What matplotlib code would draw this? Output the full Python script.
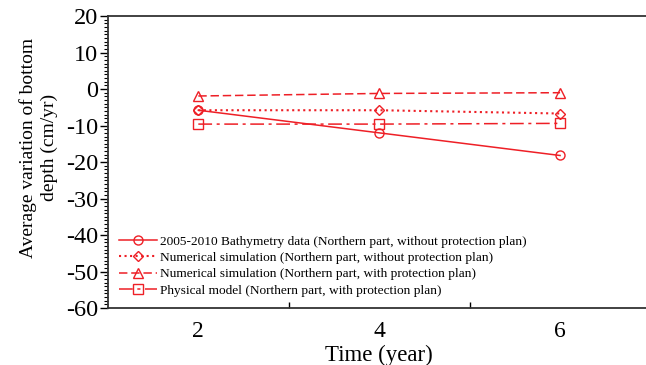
import matplotlib.pyplot as plt
from matplotlib.ticker import FixedLocator, MultipleLocator, NullFormatter

plt.rcParams['font.family'] = ['Liberation Serif', 'DejaVu Serif']
plt.rcParams['axes.unicode_minus'] = False

years = [2, 4, 6]
bathymetry_north = [-5.8, -12.0, -18.2]
sim_north_no_plan = [-5.8, -5.8, -6.7]
sim_north_plan = [-1.9, -1.2, -1.0]
physical_north_plan = [-9.6, -9.6, -9.4]

labels = [
    '2005-2010 Bathymetry data (Northern part, without protection plan)',
    'Numerical simulation (Northern part, without protection plan)',
    'Numerical simulation (Northern part, with protection plan)',
    'Physical model (Northern part, with protection plan)',
]

red = '#ee1f26'
fig = plt.figure(figsize=(6.46, 3.65), dpi=100)
ax = fig.add_axes([0.167, 0.156, 0.84, 0.80])

style = dict(color=red, lw=1.1, ms=6.5, mfc='none', mec=red, mew=1.0)
ax.plot(years, bathymetry_north, '-', marker='o', label=labels[0], **style)
ax.plot(years, sim_north_no_plan, ':', marker='D', label=labels[1],
        **{**style, 'ms': 5.5, 'lw': 1.5})
ax.plot(years, sim_north_plan, '--', marker='^', label=labels[2],
        dashes=(5.5, 2.5), **{**style, 'ms': 7})
ax.plot(years, physical_north_plan, '-.', marker='s', label=labels[3],
        dashes=(9, 3, 2, 3), **style)

ax.set_xlim(1, 7)
ax.set_ylim(-60, 20)

# labels sit at even years, tick marks at odd years
ax.xaxis.set_major_locator(FixedLocator([3, 5]))
ax.xaxis.set_major_formatter(NullFormatter())
ax.xaxis.set_minor_locator(FixedLocator(years))
ax.xaxis.set_minor_formatter(plt.FixedFormatter(['2', '4', '6']))
ax.tick_params(axis='x', which='major', direction='in', length=4, width=1)
ax.tick_params(axis='x', which='minor', length=0, pad=9, labelsize=17)

ax.yaxis.set_major_locator(MultipleLocator(10))
ax.yaxis.set_minor_locator(MultipleLocator(1))
ax.tick_params(axis='y', which='major', direction='out', length=6, width=1,
               labelsize=17.5, pad=1)
ax.tick_params(axis='y', which='minor', direction='out', length=3, width=0.8)

for side in ['left', 'bottom', 'top']:
    ax.spines[side].set_linewidth(1.3)
    ax.spines[side].set_color('#333333')
ax.spines['right'].set_visible(False)

ax.set_xlabel('Time (year)', fontsize=16.5, labelpad=2)
ax.set_ylabel('Average variation of bottom\ndepth (cm/yr)', fontsize=14,
              linespacing=1.25)
ax.yaxis.set_label_coords(-0.092, 0.55)

ax.legend(loc='lower left', bbox_to_anchor=(0.0, 0.0), frameon=False,
          fontsize=9.6, handlelength=2.8, handletextpad=0.25,
          labelspacing=0.3, borderaxespad=0.45)

fig.savefig('out.png', dpi=100)
